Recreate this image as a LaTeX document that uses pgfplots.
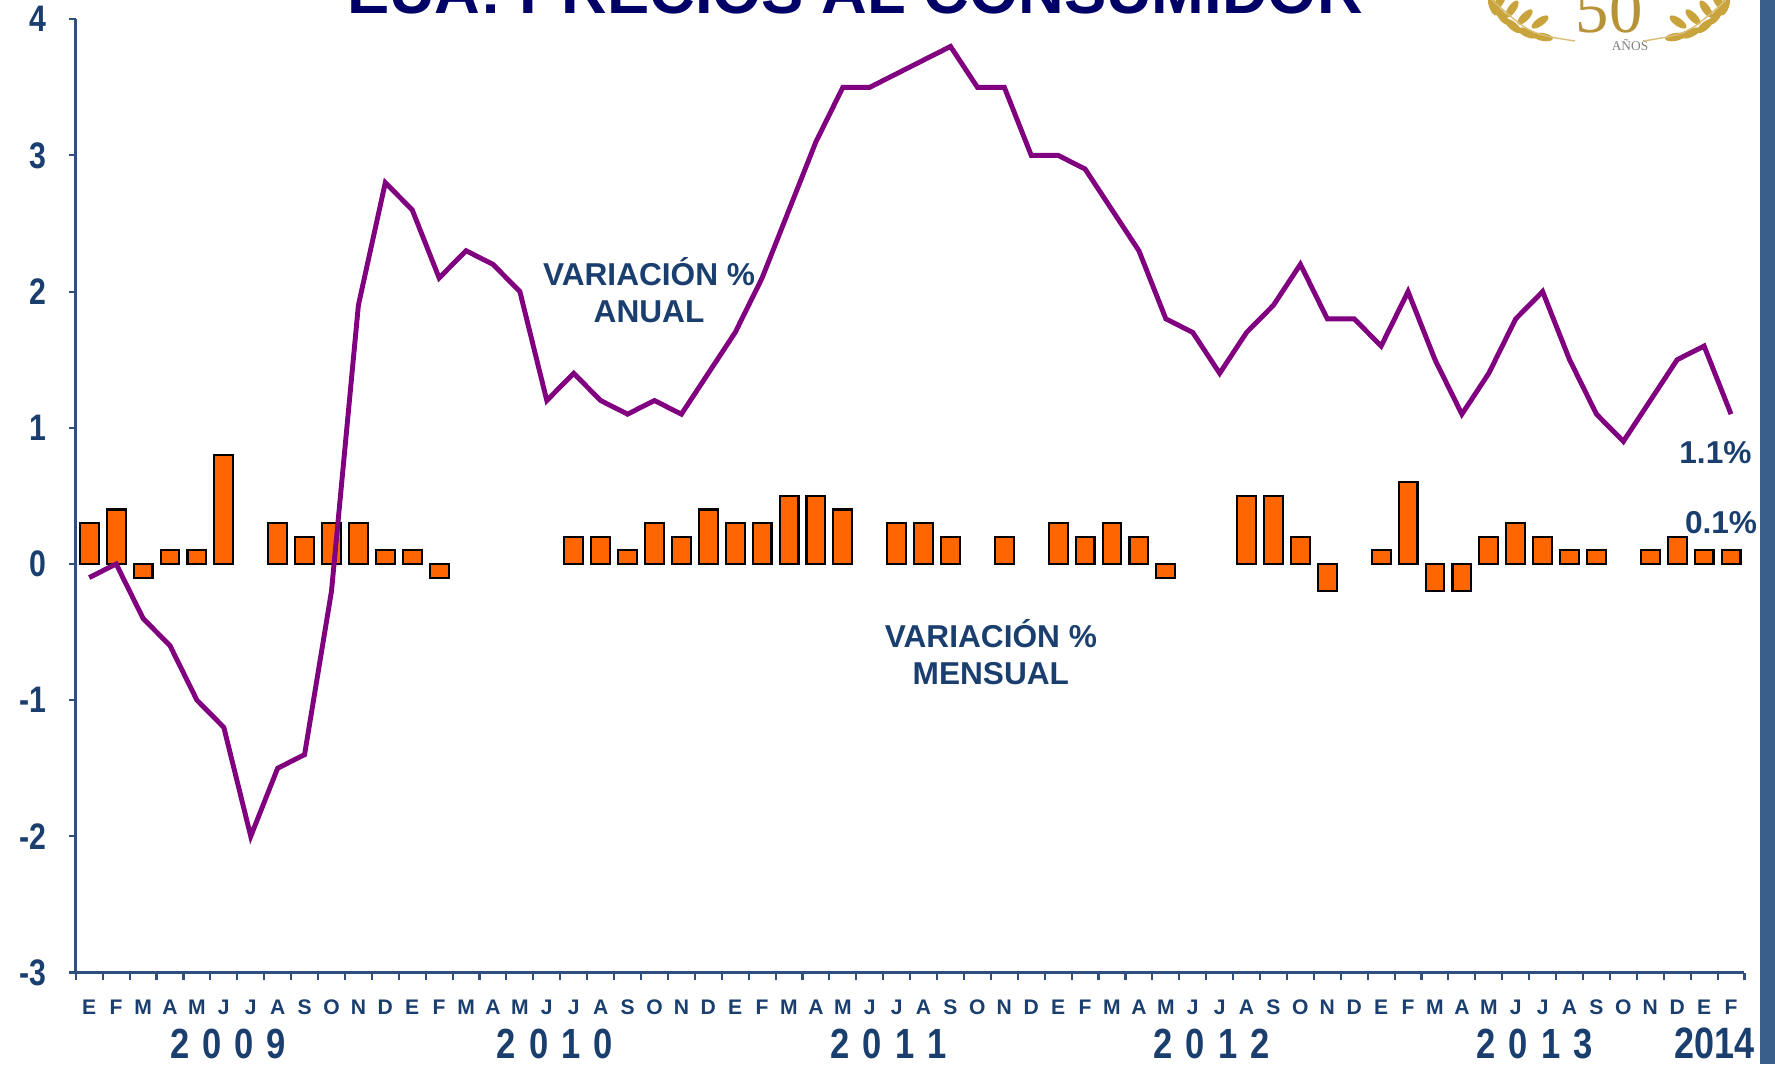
\documentclass[border=0pt]{standalone}
\usepackage{fontspec}
\setmainfont{Liberation Sans}
\newfontfamily\narrow[FakeStretch=0.82]{Liberation Sans}
\newfontfamily\seriff{Liberation Serif}
\usepackage{pgfplots}
\pgfplotsset{compat=1.18}
\definecolor{lab}{HTML}{1A3F6F}
\definecolor{axisc}{HTML}{2F4F7F}
\definecolor{titlec}{HTML}{000066}
\definecolor{barc}{HTML}{FF6600}
\definecolor{linec}{HTML}{800080}
\definecolor{rightbar}{HTML}{3A5F8B}
\definecolor{gold}{HTML}{C9A33C}
\newcommand\yr[4]{#1\hspace{0.13cm}#2\hspace{0.13cm}#3\hspace{0.13cm}#4}

\pgfplotstableread{
x y
0 0.3
1 0.4
2 -0.1
3 0.1
4 0.1
5 0.8
7 0.3
8 0.2
9 0.3
10 0.3
11 0.1
12 0.1
13 -0.1
18 0.2
19 0.2
20 0.1
21 0.3
22 0.2
23 0.4
24 0.3
25 0.3
26 0.5
27 0.5
28 0.4
30 0.3
31 0.3
32 0.2
34 0.2
36 0.3
37 0.2
38 0.3
39 0.2
40 -0.1
43 0.5
44 0.5
45 0.2
46 -0.2
48 0.1
49 0.6
50 -0.2
51 -0.2
52 0.2
53 0.3
54 0.2
55 0.1
56 0.1
58 0.1
59 0.2
60 0.1
61 0.1
}\mensual

\pgfplotstableread{
x y
0 -0.1
1 0.0
2 -0.4
3 -0.6
4 -1.0
5 -1.2
6 -2.0
7 -1.5
8 -1.4
9 -0.2
10 1.9
11 2.8
12 2.6
13 2.1
14 2.3
15 2.2
16 2.0
17 1.2
18 1.4
19 1.2
20 1.1
21 1.2
22 1.1
23 1.4
24 1.7
25 2.1
26 2.6
27 3.1
28 3.5
29 3.5
30 3.6
31 3.7
32 3.8
33 3.5
34 3.5
35 3.0
36 3.0
37 2.9
38 2.6
39 2.3
40 1.8
41 1.7
42 1.4
43 1.7
44 1.9
45 2.2
46 1.8
47 1.8
48 1.6
49 2.0
50 1.5
51 1.1
52 1.4
53 1.8
54 2.0
55 1.5
56 1.1
57 0.9
58 1.2
59 1.5
60 1.6
61 1.1
}\anual

\begin{document}
\begin{tikzpicture}
\useasboundingbox (0,0) rectangle (17.75cm,10.64cm);
\fill[rightbar] (17.60cm,0) rectangle (17.75cm,10.64cm);
\node[font=\bfseries\fontsize{18}{18}\selectfont, text=titlec, anchor=base, inner sep=0pt] at (8.55cm,10.504cm) {EUA: PRECIOS AL CONSUMIDOR};
% logo
\node[font=\seriff\fontsize{19}{19}\selectfont, text=gold!90!black, anchor=base, inner sep=0pt] at (16.09cm,10.31cm) {50};
\node[font=\seriff\fontsize{3.8}{3.8}\selectfont, text=gray, anchor=north, inner sep=0pt] at (16.30cm,10.25cm) {AÑOS};
\foreach \xx/\yy/\rr in {14.93/10.58/110, 15.02/10.48/125, 15.13/10.38/140, 15.27/10.31/155, 15.43/10.27/170,
                         15.00/10.63/60, 15.12/10.55/55, 15.25/10.47/45, 15.40/10.42/35}{
  \fill[gold, rotate around={\rr:(\xx cm,\yy cm)}] (\xx cm,\yy cm) ellipse (0.10cm and 0.04cm);
  \pgfmathsetmacro{\mx}{32.18-\xx}
  \pgfmathsetmacro{\mr}{180-\rr}
  \fill[gold, rotate around={\mr:(\mx cm,\yy cm)}] (\mx cm,\yy cm) ellipse (0.10cm and 0.04cm);
}
\draw[gold!70, line width=0.4pt] (15.75cm,10.23cm) .. controls (15.3cm,10.3cm) .. (14.92cm,10.64cm);
\draw[gold!70, line width=0.4pt] (16.43cm,10.23cm) .. controls (16.88cm,10.3cm) .. (17.26cm,10.64cm);
\begin{axis}[
  at={(0.758cm,0.915cm)}, anchor=south west,
  scale only axis, width=16.687cm, height=9.533cm,
  xmin=-0.5, xmax=61.5, ymin=-3, ymax=4,
  axis x line=bottom, axis y line=left,
  axis line style={draw=axisc, line width=0.8pt, -},
  ytick={-3,-2,-1,0,1,2,3,4},
  yticklabels={-3,-2,-1,0,1,2,3,4},
  yticklabel style={font=\narrow\bfseries\fontsize{10.5}{10.5}\selectfont, text=lab, xshift=-0.1cm},
  xtick={-0.5,0.5,...,61.5},
  xticklabels={},
  tick align=outside,
  major tick length=0.07cm,
  tick style={draw=axisc, line width=0.6pt},
  extra x ticks={0,1,...,61},
  extra x tick labels={E,F,M,A,M,J,J,A,S,O,N,D,E,F,M,A,M,J,J,A,S,O,N,D,E,F,M,A,M,J,J,A,S,O,N,D,E,F,M,A,M,J,J,A,S,O,N,D,E,F,M,A,M,J,J,A,S,O,N,D,E,F},
  extra x tick style={major tick length=0pt, xticklabel style={font=\bfseries\fontsize{6}{6}\selectfont, text=lab, yshift=-0.15cm}},
  clip=false,
]
\addplot[ybar, bar width=0.7, fill=barc, draw=black, line width=0.6pt] table[x=x,y=y] {\mensual};
\addplot[linec, line width=1.4pt, mark=none] table[x=x,y=y] {\anual};

\node[font=\bfseries\fontsize{9}{10.5}\selectfont, text=lab, align=center] at (axis cs:20.8,2.01) {VARIACIÓN \%\\ANUAL};
\node[font=\bfseries\fontsize{9}{10.5}\selectfont, text=lab, align=center] at (axis cs:33.5,-0.65) {VARIACIÓN \%\\MENSUAL};
\node[font=\bfseries\fontsize{9}{9}\selectfont, text=lab] at (axis cs:60.42,0.82) {1.1\%};
\node[font=\bfseries\fontsize{9}{9}\selectfont, text=lab] at (axis cs:60.63,0.30) {0.1\%};

\node[font=\narrow\bfseries\fontsize{12}{12}\selectfont, text=lab, yshift=-0.71cm, inner sep=0pt] at (axis cs:5.16,-3) {\yr 2009};
\node[font=\narrow\bfseries\fontsize{12}{12}\selectfont, text=lab, yshift=-0.71cm, inner sep=0pt] at (axis cs:17.3,-3) {\yr 2010};
\node[font=\narrow\bfseries\fontsize{12}{12}\selectfont, text=lab, yshift=-0.71cm, inner sep=0pt] at (axis cs:29.7,-3) {\yr 2011};
\node[font=\narrow\bfseries\fontsize{12}{12}\selectfont, text=lab, yshift=-0.71cm, inner sep=0pt] at (axis cs:41.7,-3) {\yr 2012};
\node[font=\narrow\bfseries\fontsize{12}{12}\selectfont, text=lab, yshift=-0.71cm, inner sep=0pt] at (axis cs:53.7,-3) {\yr 2013};
\node[font=\narrow\bfseries\fontsize{12.5}{12.5}\selectfont, text=lab, yshift=-0.71cm, inner sep=0pt] at (axis cs:60.4,-3) {2014};
\end{axis}
\end{tikzpicture}
\end{document}
